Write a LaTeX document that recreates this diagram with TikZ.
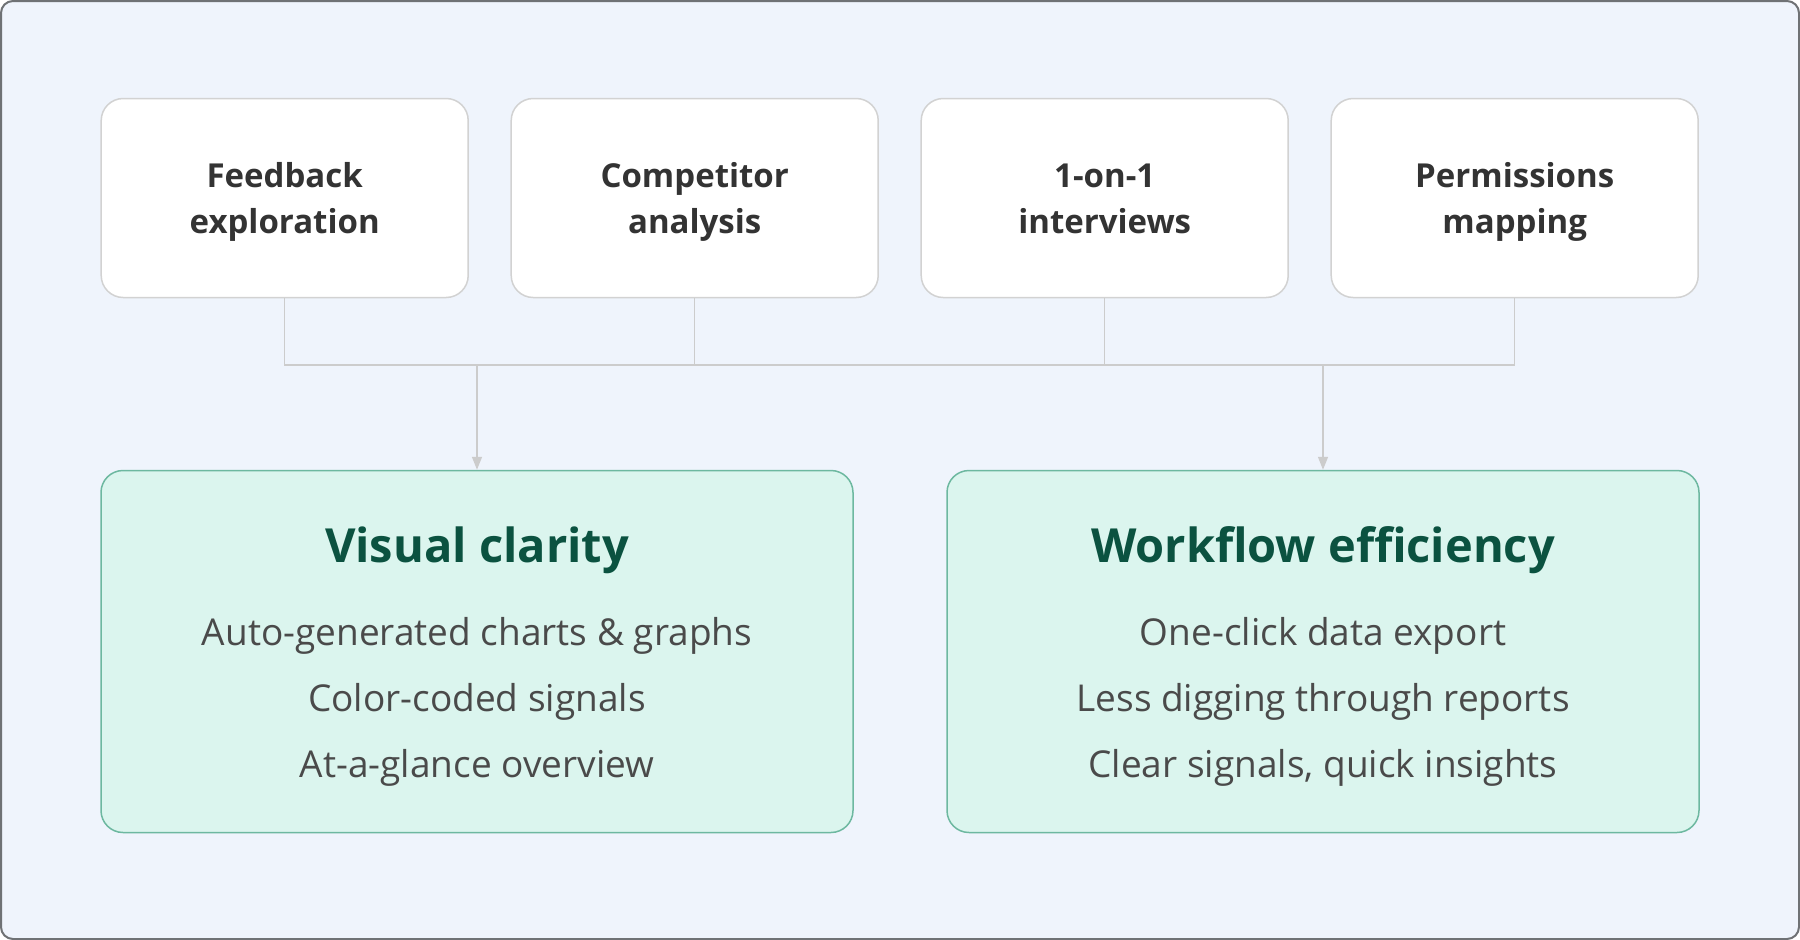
\documentclass[tikz,border=0pt]{standalone}
\usepackage{fontspec}
\setmainfont{Open Sans}
\usetikzlibrary{positioning,arrows.meta}

\definecolor{pagebg}{HTML}{EFF4FC}
\definecolor{framecol}{HTML}{6F7275}
\definecolor{srcline}{HTML}{D2D2D2}
\definecolor{srctext}{HTML}{333333}
\definecolor{wirecol}{HTML}{CCCCCC}
\definecolor{outfill}{HTML}{DBF5EE}
\definecolor{outline}{HTML}{6DB8A0}
\definecolor{headtext}{HTML}{0B5240}
\definecolor{itemtext}{HTML}{4A4A4A}

% fixed line box for the two-line labels
\newcommand\lineprop{\rule[-10.3pt]{0pt}{46pt}}

\tikzset{
  source/.style={draw=srcline, line width=1.5pt, fill=white, rounded corners=22pt,
    minimum width=367pt, minimum height=199pt, align=center, text=srctext,
    font=\fontsize{33}{46}\selectfont\bfseries},
  outcome/.style={draw=outline, line width=1.5pt, fill=outfill, rounded corners=22pt,
    minimum width=752pt, minimum height=362pt},
  head/.style={text=headtext, font=\fontsize{47}{56}\selectfont\bfseries},
  item/.style={text=itemtext, font=\fontsize{37}{42}\selectfont},
  wire/.style={draw=wirecol, line width=1.5pt},
}

\begin{document}
\begin{tikzpicture}[x=1pt,y=-1pt]
  \useasboundingbox (0,0) rectangle (1800,940);
  \draw[framecol, line width=2pt, fill=pagebg, rounded corners=12pt] (1,1) rectangle (1799,939);

  % sources
  \node[source] (fb) at (284.7,198) {Feedback\lineprop\\exploration\lineprop};
  \node[source, right=41.5pt of fb] (ca) {Competitor\lineprop\\analysis\lineprop};
  \node[source, right=41.5pt of ca] (oo) {1-on-1\lineprop\\interviews\lineprop};
  \node[source, right=41.5pt of oo] (pm) {Permissions\lineprop\\mapping\lineprop};

  % outcomes
  \node[outcome] (vc) at (477,651.5) {};
  \node[outcome, right=92.5pt of vc] (wf) {};

  \node[head] (vct) at (vc.north |- 0,550) {Visual clarity};
  \node[item] (vc1) at (vc.north |- 0,636) {Auto-generated charts \& graphs};
  \node[item] (vc2) at (vc.north |- 0,702) {Color-coded signals};
  \node[item] (vc3) at (vc.north |- 0,768) {At-a-glance overview};

  \node[head] (wft) at (wf.north |- 0,550) {Workflow efficiency};
  \node[item] (wf1) at (wf.north |- 0,636) {One-click data export};
  \node[item] (wf2) at (wf.north |- 0,702) {Less digging through reports};
  \node[item] (wf3) at (wf.north |- 0,768) {Clear signals, quick insights};

  % connectors
  \coordinate (bus) at (0,365);
  \draw[wire] (fb.south) |- (pm.south |- bus) -- (pm.south);
  \draw[wire] (ca.south) -- (ca.south |- bus);
  \draw[wire] (oo.south) -- (oo.south |- bus);
  \draw[wire, -{Triangle[length=13pt,width=10pt]}] (vc.north |- bus) -- (vc.north);
  \draw[wire, -{Triangle[length=13pt,width=10pt]}] (wf.north |- bus) -- (wf.north);
\end{tikzpicture}
\end{document}
